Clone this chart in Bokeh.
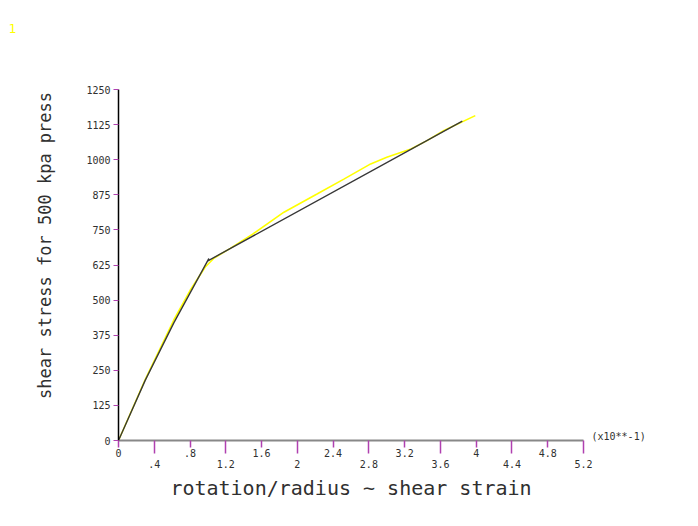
from bokeh.plotting import figure
from bokeh.models import FixedTicker, Range1d, LinearAxis, Title
from bokeh.embed import file_html
from bokeh.resources import INLINE

# ---- data ----
x_yellow = [0, 0.30, 0.62, 0.80, 0.97, 1.07, 1.25, 1.50, 1.85, 2.22, 2.52, 2.82, 3.00, 3.27, 3.45, 3.64, 3.99]
y_yellow = [0, 218, 430, 534, 618, 650, 684, 735, 813, 878, 931, 985, 1009, 1038, 1068, 1104, 1157]

x_black = [0, 0.30, 0.62, 1.01, 1.00, 3.845]
y_black = [0, 215, 420, 648, 640, 1137]

xtick_upper = [0, 0.8, 1.6, 2.4, 3.2, 4.0, 4.8]
xlab_upper = ["0", ".8", "1.6", "2.4", "3.2", "4", "4.8"]
xtick_lower = [0.4, 1.2, 2.0, 2.8, 3.6, 4.4, 5.2]
xlab_lower = [".4", "1.2", "2", "2.8", "3.6", "4.4", "5.2"]
ytick_vals = [0, 125, 250, 375, 500, 625, 750, 875, 1000, 1125, 1250]

x_title = "rotation/radius ~ shear strain"
y_title = "shear stress for 500 kpa press"
scale_note = "(x10**-1)"
corner_mark = "1"

XMAX, YMAX = 5.2, 1250
PURPLE = "#b040b0"
TXT = "#303030"
MONO = "DejaVu Sans Mono"

W, H = 682, 510
LEFT, AXIS_Y, FRAME_W, AXIS_TOP = 118, 440, 465, 89   # reference pixel geometry
TOP = 50                                              # frame extends above the axis top
ky = (AXIS_Y - AXIS_TOP) / YMAX
y_hi = YMAX + (AXIS_TOP - TOP) / ky

p = figure(width=W, height=H, x_range=Range1d(0, XMAX), y_range=Range1d(0, y_hi),
           output_backend="svg", toolbar_location=None, x_axis_location=None,
           min_border_left=LEFT, min_border_right=W - LEFT - FRAME_W,
           min_border_top=TOP, min_border_bottom=H - AXIS_Y)
p.xgrid.visible = False
p.ygrid.visible = False
p.outline_line_color = None
p.background_fill_color = "white"
p.border_fill_color = "white"

# first x axis: line, ticks and the upper row of labels
xa = LinearAxis(ticker=FixedTicker(ticks=xtick_upper, minor_ticks=xtick_lower),
                major_label_overrides={v: t for v, t in zip(xtick_upper, xlab_upper)})
xa.major_tick_in = 0
xa.major_tick_out = 7
xa.minor_tick_in = 0
xa.minor_tick_out = 13
xa.major_tick_line_color = PURPLE
xa.minor_tick_line_color = PURPLE
xa.major_tick_line_width = 1.5
xa.minor_tick_line_width = 1.5
xa.axis_line_color = "#888888"
xa.axis_line_width = 2
xa.major_label_standoff = -5
xa.major_label_text_align = "left"
xa.major_label_text_font = MONO
xa.major_label_text_font_size = "10px"
xa.major_label_text_color = TXT
p.add_layout(xa, "below")

# second x axis: lower row of labels and the title
xb = LinearAxis(ticker=FixedTicker(ticks=xtick_lower),
                major_label_overrides={v: t for v, t in zip(xtick_lower, xlab_lower)})
xb.axis_line_color = None
xb.major_tick_line_color = None
xb.minor_tick_line_color = None
xb.major_tick_in = 0
xb.major_tick_out = 0
xb.major_label_standoff = 0
xb.major_label_text_align = "left"
xb.major_label_text_font = MONO
xb.major_label_text_font_size = "10px"
xb.major_label_text_color = TXT
xb.axis_label = x_title
xb.axis_label_standoff = 5
xb.axis_label_text_font = MONO
xb.axis_label_text_font_size = "20px"
xb.axis_label_text_font_style = "normal"
xb.axis_label_text_color = TXT
p.add_layout(xb, "below")

ya = p.yaxis[0]
ya.ticker = FixedTicker(ticks=ytick_vals)
ya.bounds = (0, YMAX)
ya.axis_line_color = "black"
ya.axis_line_width = 1.5
ya.major_tick_in = 0
ya.major_tick_out = 5
ya.major_tick_line_color = PURPLE
ya.minor_tick_line_color = None
ya.major_label_standoff = 3
ya.major_label_text_font = MONO
ya.major_label_text_font_size = "10px"
ya.major_label_text_color = TXT
ya.axis_label = y_title
ya.axis_label_standoff = 28
ya.axis_label_text_font = MONO
ya.axis_label_text_font_size = "17px"
ya.axis_label_text_font_style = "normal"
ya.axis_label_text_color = TXT

# right axis carrying only the scale note next to the end of the x axis
yr = LinearAxis(ticker=FixedTicker(ticks=[14]), major_label_overrides={14: scale_note})
yr.axis_line_color = None
yr.major_tick_line_color = None
yr.minor_tick_line_color = None
yr.major_tick_in = 0
yr.major_tick_out = 0
yr.major_label_standoff = 8
yr.major_label_text_font = MONO
yr.major_label_text_font_size = "10px"
yr.major_label_text_color = TXT
p.add_layout(yr, "right")

# curves
p.line(x_yellow, y_yellow, line_color="#ffff00", line_width=1.6)
p.line(x_black, y_black, line_color="#383838", line_width=1.4)

# yellow corner mark
p.add_layout(Title(text=corner_mark, align="left", offset=-110, standoff=32,
                   vertical_align="top", text_color="#ffff00", text_font=MONO,
                   text_font_size="13px", text_font_style="normal"), "above")

open("out.html", "w").write(file_html(p, INLINE))
